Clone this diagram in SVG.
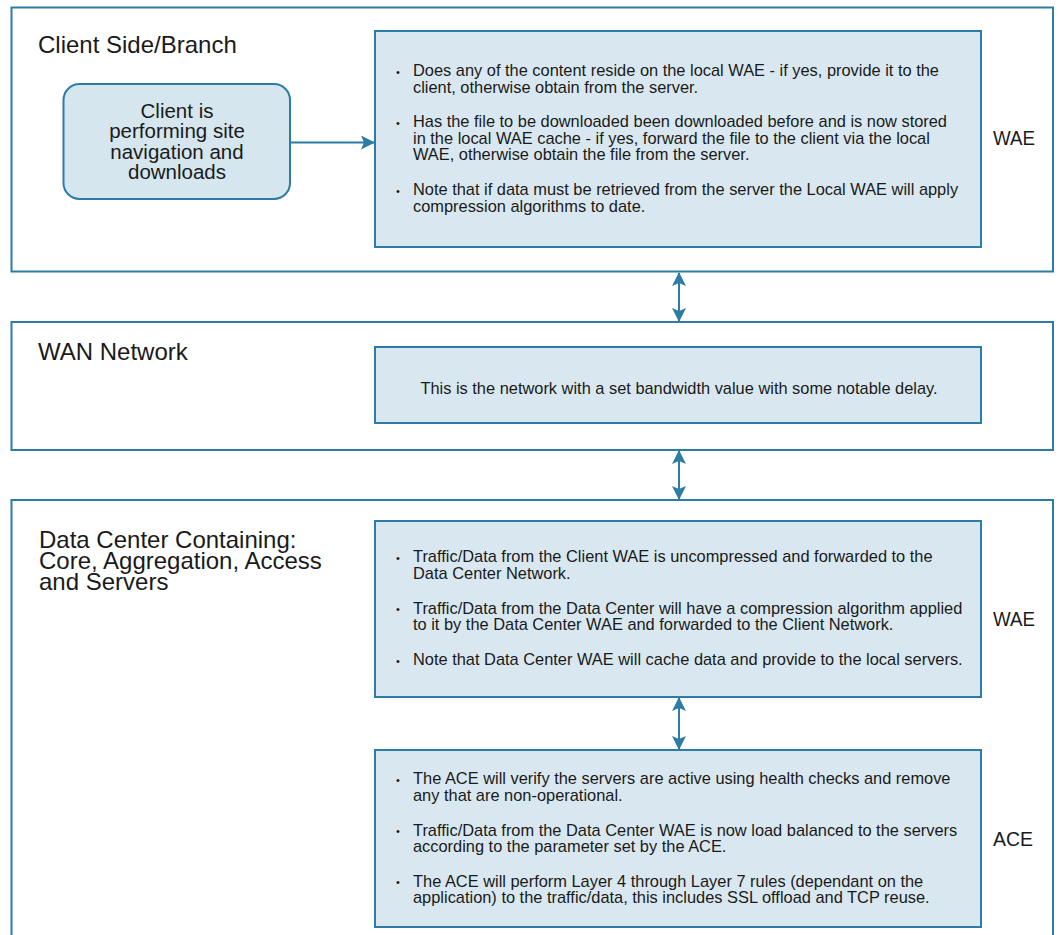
<svg xmlns="http://www.w3.org/2000/svg" width="1062" height="935" viewBox="0 0 1062 935">
<style>
  .outer { fill: #ffffff; stroke: #2d7ca6; stroke-width: 2; }
  .inner { fill: #d9e8f0; stroke: #2d7ca6; stroke-width: 2; }
  .client { fill: #d5e6ef; stroke: #2d7ca6; stroke-width: 2; }
  .title { font-family: "Liberation Sans", Arial, sans-serif; font-size: 24px; fill: #1a1a1a; }
  .label { font-family: "Liberation Sans", Arial, sans-serif; font-size: 20px; fill: #1a1a1a; }
  .ctext { font-family: "Liberation Sans", Arial, sans-serif; font-size: 20.5px; fill: #1a1a1a; text-anchor: middle; }
  .body { font-family: "Liberation Sans", Arial, sans-serif; font-size: 16.4px; fill: #1a1a1a; }
  .dot { font-family: "Liberation Sans", Arial, sans-serif; font-size: 11px; fill: #1a1a1a; }
  .conn { stroke: #2d7ca6; stroke-width: 2; fill: none; }
</style>
<defs>
  <marker id="ah" viewBox="0 0 14 14" refX="13" refY="7" markerWidth="14" markerHeight="14" markerUnits="userSpaceOnUse" orient="auto-start-reverse">
    <path d="M0,0 L14,7 L0,14 L3,7 Z" fill="#2d7ca6"/>
  </marker>
</defs>

<g id="client-branch">
  <rect class="outer" x="11.5" y="7.5" width="1041.5" height="264"/>
  <text class="title" x="38" y="52.5">Client Side/Branch</text>
</g>

<g id="client">
  <rect class="client" x="63.5" y="84" width="226.5" height="115" rx="16" ry="16"/>
  <text class="ctext" x="177" y="117.5">Client is<tspan x="177" dy="20.5">performing site</tspan><tspan x="177" dy="20.5">navigation and</tspan><tspan x="177" dy="20.5">downloads</tspan></text>
</g>

<g id="wae-branch">
  <rect class="inner" x="375" y="31" width="606" height="216"/>
  <text class="dot" x="396" y="75.5">•</text>
  <text class="body" x="413" y="76">Does any of the content reside on the local WAE - if yes, provide it to the<tspan x="413" dy="16.5">client, otherwise obtain from the server.</tspan></text>
  <text class="dot" x="396" y="126.5">•</text>
  <text class="body" x="413" y="127">Has the file to be downloaded been downloaded before and is now stored<tspan x="413" dy="16.5">in the local WAE cache - if yes, forward the file to the client via the local</tspan><tspan x="413" dy="16.5">WAE, otherwise obtain the file from the server.</tspan></text>
  <text class="dot" x="396" y="194.5">•</text>
  <text class="body" x="413" y="195">Note that if data must be retrieved from the server the Local WAE will apply<tspan x="413" dy="16.5">compression algorithms to date.</tspan></text>
  <text class="label" x="993" y="145" textLength="42" lengthAdjust="spacingAndGlyphs">WAE</text>
</g>

<g id="wan-network">
  <rect class="outer" x="11.5" y="322" width="1041.5" height="128"/>
  <text class="title" x="38" y="360">WAN Network</text>
</g>

<g id="wan-desc">
  <rect class="inner" x="375" y="347" width="606" height="76"/>
  <text class="body" x="679" y="394" text-anchor="middle">This is the network with a set bandwidth value with some notable delay.</text>
</g>

<g id="data-center">
  <rect class="outer" x="11.5" y="500" width="1041.5" height="450"/>
  <text class="title" x="39" y="548">Data Center Containing:<tspan x="39" dy="20.5">Core, Aggregation, Access</tspan><tspan x="39" dy="21">and Servers</tspan></text>
</g>

<g id="wae-dc">
  <rect class="inner" x="375" y="521" width="606" height="176"/>
  <text class="dot" x="396" y="561.5">•</text>
  <text class="body" x="413" y="562">Traffic/Data from the Client WAE is uncompressed and forwarded to the<tspan x="413" dy="16.5">Data Center Network.</tspan></text>
  <text class="dot" x="396" y="613">•</text>
  <text class="body" x="413" y="613.5">Traffic/Data from the Data Center will have a compression algorithm applied<tspan x="413" dy="16.5">to it by the Data Center WAE and forwarded to the Client Network.</tspan></text>
  <text class="dot" x="396" y="664.5">•</text>
  <text class="body" x="413" y="665">Note that Data Center WAE will cache data and provide to the local servers.</text>
  <text class="label" x="993" y="626" textLength="42" lengthAdjust="spacingAndGlyphs">WAE</text>
</g>

<g id="ace">
  <rect class="inner" x="375" y="750" width="606" height="177"/>
  <text class="dot" x="396" y="783.5">•</text>
  <text class="body" x="413" y="784">The ACE will verify the servers are active using health checks and remove<tspan x="413" dy="16.5">any that are non-operational.</tspan></text>
  <text class="dot" x="396" y="835">•</text>
  <text class="body" x="413" y="835.5">Traffic/Data from the Data Center WAE is now load balanced to the servers<tspan x="413" dy="16.5">according to the parameter set by the ACE.</tspan></text>
  <text class="dot" x="396" y="886">•</text>
  <text class="body" x="413" y="886.5">The ACE will perform Layer 4 through Layer 7 rules (dependant on the<tspan x="413" dy="16.5">application) to the traffic/data, this includes SSL offload and TCP reuse.</tspan></text>
  <text class="label" x="993" y="846" textLength="40" lengthAdjust="spacingAndGlyphs">ACE</text>
</g>

<g id="connectors">
  <line class="conn" x1="290" y1="142.5" x2="374" y2="142.5" marker-end="url(#ah)"/>
  <line class="conn" x1="679" y1="273" x2="679" y2="321" marker-start="url(#ah)" marker-end="url(#ah)"/>
  <line class="conn" x1="679" y1="451" x2="679" y2="499" marker-start="url(#ah)" marker-end="url(#ah)"/>
  <line class="conn" x1="679" y1="698" x2="679" y2="749" marker-start="url(#ah)" marker-end="url(#ah)"/>
</g>
</svg>
